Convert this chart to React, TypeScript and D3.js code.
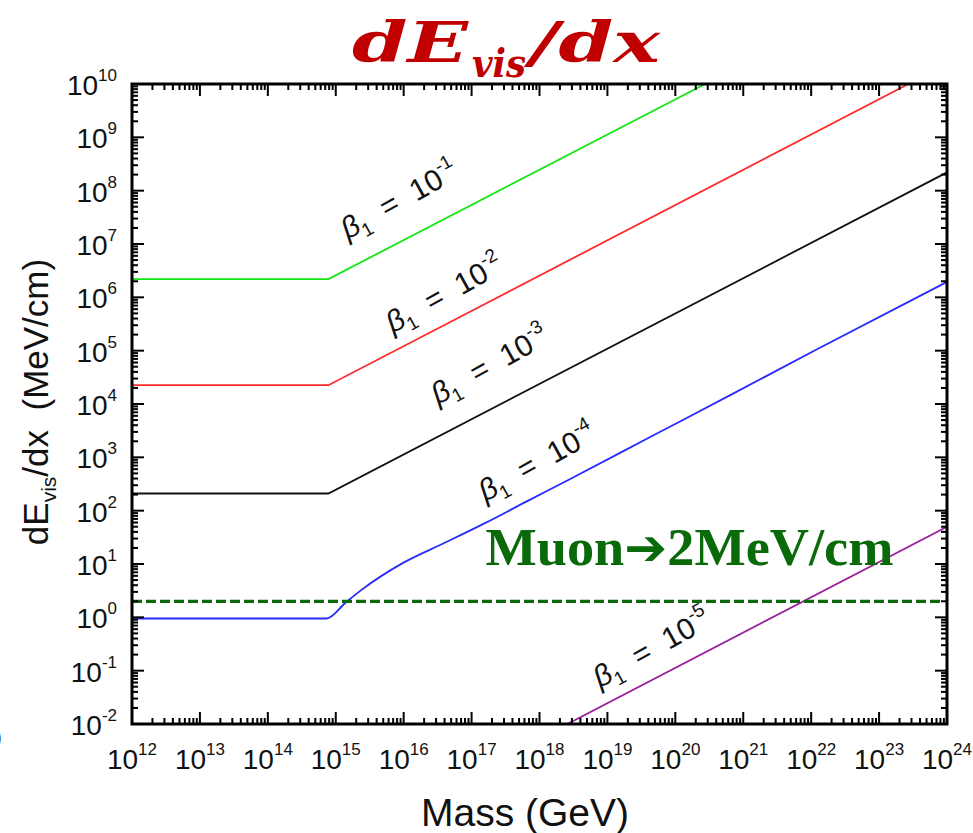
import React from 'react';
import * as d3 from 'd3';

const W = 973;
const H = 833;
const plot = { left: 132, right: 947, top: 84, bottom: 724 };

// axis decades
const xExponents = d3.range(12, 25);
const yExponents = d3.range(-2, 11);

// curves (mass in GeV, dE/dx in MeV/cm)
const greenMass = [1e12, 7.8e14, 2.75e20];
const greenDEdx = [2.2e6, 2.2e6, 1e10];

const redMass = [1e12, 7.8e14, 2.7e23];
const redDEdx = [2.25e4, 2.25e4, 1e10];

const blackMass = [1e12, 7.8e14, 1e24];
const blackDEdx = [2.1e2, 2.1e2, 2.2e8];

const blueMass = [1e12, 7.3e14, 1.38e15, 2.34e15, 9.8e15, 3.9e16, 1.6e17, 6.6e17, 2.7e18, 4.4e19, 7.2e20, 1.2e22, 1e24];
const blueDEdx = [0.95, 0.95, 1.86, 3.2, 10.5, 24.5, 59, 151, 380, 2450, 1.58e4, 1.05e5, 1.95e6];

const purpleMass = [2.57e18, 1e24];
const purpleDEdx = [0.01, 50];

const muonLevel = 2;

// beta labels: exponent and anchor (mass, dE/dx)
const labelExp = ['-1', '-2', '-3', '-4', '-5'];
const labelMass = [1.5e15, 6.9e15, 3.2e16, 1.6e17, 7.8e18];
const labelDEdx = [1.2e7, 2.1e5, 9.6e3, 145, 0.047];

const series = [
  { key: 'g', color: '#14e614', mass: greenMass, dedx: greenDEdx, smooth: false },
  { key: 'r', color: '#ff2a2a', mass: redMass, dedx: redDEdx, smooth: false },
  { key: 'k', color: '#111111', mass: blackMass, dedx: blackDEdx, smooth: false },
  { key: 'b', color: '#2a2aff', mass: blueMass, dedx: blueDEdx, smooth: true },
  { key: 'p', color: '#9a1f9a', mass: purpleMass, dedx: purpleDEdx, smooth: false },
];

const x = d3.scaleLog().domain([1e12, 1e24]).range([plot.left, plot.right]);
const y = d3.scaleLog().domain([1e-2, 1e10]).range([plot.bottom, plot.top]);

const straight = d3
  .line<[number, number]>()
  .x((d) => x(d[0]))
  .y((d) => y(d[1]));

const curved = d3
  .line<[number, number]>()
  .x((d) => x(d[0]))
  .y((d) => y(d[1]))
  .curve(d3.curveMonotoneX);

const sans = 'Liberation Sans, Arial, sans-serif';

function minorTicks(exps: number[]) {
  const out: number[] = [];
  exps.slice(0, -1).forEach((e) => {
    for (let k = 2; k <= 9; k++) out.push(k * Math.pow(10, e));
  });
  return out;
}

export default function App() {
  const xMinor = minorTicks(xExponents);
  const yMinor = minorTicks(yExponents);
  const majorLen = 12;
  const minorLen = 6;

  return (
    <svg width={W} height={H} style={{ position: 'absolute', left: 0, top: 0, background: '#fff' }}>
      <defs>
        <clipPath id="plotclip">
          <rect x={plot.left} y={plot.top} width={plot.right - plot.left} height={plot.bottom - plot.top} />
        </clipPath>
      </defs>
      <rect width={W} height={H} fill="#fff" />

      {/* title */}
      <g fill="#c00000" fontFamily="DejaVu Serif, serif" fontWeight="bold" fontStyle="italic">
        <text x={352} y={62} fontSize={56} textLength={116} lengthAdjust="spacingAndGlyphs">dE</text>
        <text x={472} y={77} fontSize={40} textLength={54} lengthAdjust="spacingAndGlyphs">vis</text>
        <text x={530} y={62} fontSize={56} textLength={130} lengthAdjust="spacingAndGlyphs">/dx</text>
      </g>

      {/* curves */}
      <g clipPath="url(#plotclip)" fill="none">
        {series.map((s) => {
          const pts = s.mass.map((m, i) => [m, s.dedx[i]] as [number, number]);
          return (
            <path
              key={s.key}
              d={(s.smooth ? curved(pts) : straight(pts)) || ''}
              stroke={s.color}
              strokeWidth={1.8}
            />
          );
        })}
        <line
          x1={plot.left}
          x2={plot.right - 5}
          y1={y(muonLevel)}
          y2={y(muonLevel)}
          stroke="#0a6a0a"
          strokeWidth={3.2}
          strokeDasharray="10 4"
        />
      </g>

      {/* beta labels */}
      {labelExp.map((e, i) => (
        <text
          key={e}
          transform={`translate(${x(labelMass[i])},${y(labelDEdx[i])}) rotate(-29)`}
          fontFamily={sans}
          fontSize={30}
          fill="#111"
        >
          <tspan fontStyle="italic">β</tspan>
          <tspan fontSize={19} dy={7}>1</tspan>
          <tspan dy={-7}>{'\u00a0\u00a0=\u00a0\u00a010'}</tspan>
          <tspan fontSize={19} dy={-14}>{e}</tspan>
        </text>
      ))}

      {/* muon annotation */}
      <text
        x={x(1.6e17)}
        y={y(9.6)}
        fill="#0a6a0a"
        fontWeight="bold"
        fontSize={53}
        fontFamily="Liberation Serif, serif"
        textLength={408}
        lengthAdjust="spacingAndGlyphs"
      >
        Muon<tspan fontFamily="DejaVu Sans, sans-serif" fontSize={50}>➔</tspan>2MeV/cm
      </text>

      {/* frame */}
      <rect
        x={plot.left}
        y={plot.top}
        width={plot.right - plot.left}
        height={plot.bottom - plot.top}
        fill="none"
        stroke="#000"
        strokeWidth={3}
      />

      {/* ticks */}
      <g stroke="#000" strokeWidth={2}>
        {xExponents.map((e) => {
          const px = x(Math.pow(10, e));
          return (
            <g key={'xt' + e}>
              <line x1={px} x2={px} y1={plot.bottom} y2={plot.bottom - majorLen} />
              <line x1={px} x2={px} y1={plot.top} y2={plot.top + majorLen} />
            </g>
          );
        })}
        {xMinor.map((v, i) => (
          <g key={'xm' + i}>
            <line x1={x(v)} x2={x(v)} y1={plot.bottom} y2={plot.bottom - minorLen} />
            <line x1={x(v)} x2={x(v)} y1={plot.top} y2={plot.top + minorLen} />
          </g>
        ))}
        {yExponents.map((e) => {
          const py = y(Math.pow(10, e));
          return (
            <g key={'yt' + e}>
              <line x1={plot.left} x2={plot.left + majorLen} y1={py} y2={py} />
              <line x1={plot.right} x2={plot.right - majorLen} y1={py} y2={py} />
            </g>
          );
        })}
        {yMinor.map((v, i) => (
          <g key={'ym' + i}>
            <line x1={plot.left} x2={plot.left + minorLen} y1={y(v)} y2={y(v)} />
            <line x1={plot.right} x2={plot.right - minorLen} y1={y(v)} y2={y(v)} />
          </g>
        ))}
      </g>

      {/* tick labels */}
      <g fontFamily={sans} fill="#111">
        {xExponents.map((e) => (
          <text key={'xl' + e} x={x(Math.pow(10, e))} y={769} fontSize={28} textAnchor="middle">
            10<tspan fontSize={17} dy={-14}>{e}</tspan>
          </text>
        ))}
        {yExponents.map((e) => (
          <text key={'yl' + e} x={117} y={y(Math.pow(10, e)) + 11} fontSize={28} textAnchor="end">
            10<tspan fontSize={17} dy={-14}>{e}</tspan>
          </text>
        ))}
      </g>

      {/* axis titles */}
      <text x={525} y={826} fontFamily={sans} fontSize={39} textAnchor="middle" fill="#111">
        Mass (GeV)
      </text>
      <text
        transform={`translate(48,402) rotate(-90)`}
        fontFamily={sans}
        fontSize={35}
        textAnchor="middle"
        fill="#111"
      >
        dE<tspan fontSize={21} dy={8}>vis</tspan>
        <tspan dy={-8}>{'/dx\u00a0\u00a0(MeV/cm)'}</tspan>
      </text>

      {/* clipped neighbour text at the left edge */}
      <text x={-14} y={748} fontFamily={sans} fontSize={28} fill="#111">0</text>
    </svg>
  );
}
